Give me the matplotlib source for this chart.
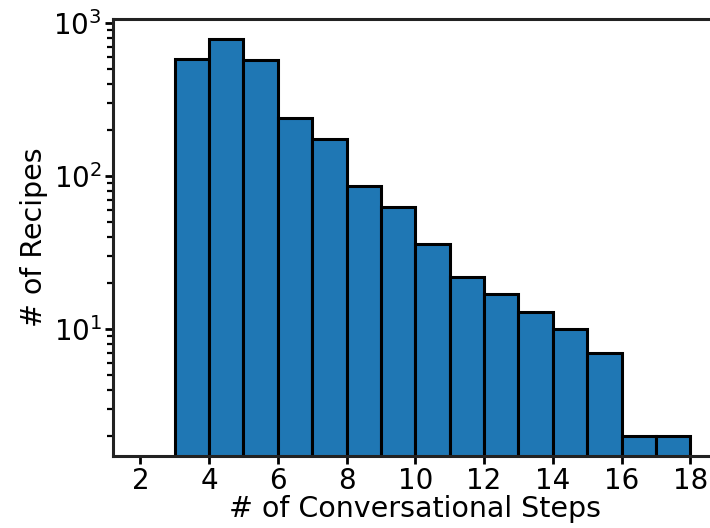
import matplotlib
matplotlib.use("Agg")
import matplotlib.pyplot as plt

# histogram of conversational steps per recipe (bin left edges, width 1)
step_bins = [3, 4, 5, 6, 7, 8, 9, 10, 11, 12, 13, 14, 15, 16, 17]
recipe_counts = [580, 790, 570, 238, 175, 86, 63, 36, 22, 17, 13, 10, 7, 2, 2]
x_ticks = [2, 4, 6, 8, 10, 12, 14, 16, 18]

fig = plt.figure(figsize=(7.1, 5.28), dpi=100)
ax = fig.add_axes([0.159, 0.136, 0.852, 0.828])

ax.bar(step_bins, recipe_counts, width=1, align='edge',
       color='#1f77b4', edgecolor='black', linewidth=2.2)

ax.set_yscale('log')
ax.set_ylim(1.48, 1060)
ax.set_xlim(1.2, 18.8)
ax.set_xticks(x_ticks)

ax.set_xlabel("# of Conversational Steps", fontsize=20.5, labelpad=0)
ax.set_ylabel("# of Recipes", fontsize=20.5, labelpad=4)

for side in ax.spines.values():
    side.set_linewidth(2.2)
    side.set_color('#222222')
ax.tick_params(axis='both', which='major', labelsize=20, length=6, width=2, pad=2)
ax.tick_params(axis='y', which='minor', length=4, width=1.6)

fig.savefig("out.png", dpi=100)
